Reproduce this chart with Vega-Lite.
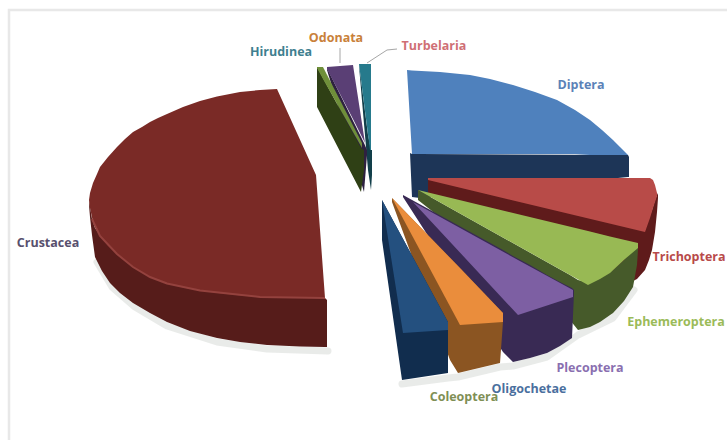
{"$schema":"https://vega.github.io/schema/vega-lite/v6.json","width":727,"height":441,"autosize":{"type":"none"},"padding":0,"background":"white","view":{"stroke":null},
"datasets":{
"pieces":[
{"piece":"Crustacea side","x":89,"y":200,"y2":205},{"piece":"Crustacea side","x":90,"y":207,"y2":217},{"piece":"Crustacea side","x":92,"y":219,"y2":235},{"piece":"Crustacea side","x":95,"y":228,"y2":257},{"piece":"Crustacea side","x":102,"y":238,"y2":271},{"piece":"Crustacea side","x":110,"y":247,"y2":283},{"piece":"Crustacea side","x":120,"y":255,"y2":293},{"piece":"Crustacea side","x":133,"y":266,"y2":303},{"piece":"Crustacea side","x":150,"y":276,"y2":313},{"piece":"Crustacea side","x":167,"y":283,"y2":322},{"piece":"Crustacea side","x":190,"y":288,"y2":331},{"piece":"Crustacea side","x":217,"y":292,"y2":338},{"piece":"Crustacea side","x":240,"y":295,"y2":342},{"piece":"Crustacea side","x":267,"y":297,"y2":345},{"piece":"Crustacea side","x":300,"y":297,"y2":346.5},{"piece":"Crustacea side","x":325,"y":298,"y2":347},{"piece":"Crustacea side","x":327,"y":300,"y2":347},
{"piece":"Crustacea top","x":89,"y":200,"y2":200},{"piece":"Crustacea top","x":90,"y":193,"y2":208},{"piece":"Crustacea top","x":93,"y":183,"y2":222},{"piece":"Crustacea top","x":97,"y":174,"y2":231},{"piece":"Crustacea top","x":100,"y":167,"y2":236},{"piece":"Crustacea top","x":108,"y":157,"y2":246},{"piece":"Crustacea top","x":117,"y":147,"y2":254},{"piece":"Crustacea top","x":125,"y":139,"y2":261},{"piece":"Crustacea top","x":133,"y":132,"y2":267},{"piece":"Crustacea top","x":142,"y":127,"y2":272},{"piece":"Crustacea top","x":150,"y":122,"y2":277},{"piece":"Crustacea top","x":158,"y":118,"y2":280},{"piece":"Crustacea top","x":167,"y":114,"y2":283.5},{"piece":"Crustacea top","x":183,"y":107,"y2":287.5},{"piece":"Crustacea top","x":200,"y":101,"y2":290.5},{"piece":"Crustacea top","x":217,"y":96.5,"y2":293},{"piece":"Crustacea top","x":240,"y":92,"y2":295.5},{"piece":"Crustacea top","x":260,"y":90,"y2":297},{"piece":"Crustacea top","x":277,"y":89,"y2":297.5},{"piece":"Crustacea top","x":316,"y":175,"y2":298},{"piece":"Crustacea top","x":325,"y":298,"y2":298},
{"piece":"Turbelaria side","x":359,"y":64,"y2":66},{"piece":"Turbelaria side","x":368,"y":135,"y2":170},{"piece":"Turbelaria side","x":371,"y":150,"y2":190},{"piece":"Turbelaria side","x":372,"y":150,"y2":175},
{"piece":"Turbelaria top","x":359,"y":64,"y2":64},{"piece":"Turbelaria top","x":370,"y":64,"y2":150},{"piece":"Turbelaria top","x":371,"y":64,"y2":150},
{"piece":"Odonata side","x":327,"y":68,"y2":70},{"piece":"Odonata side","x":364,"y":143,"y2":192},{"piece":"Odonata side","x":367,"y":150,"y2":155},
{"piece":"Odonata top","x":327,"y":67,"y2":69},{"piece":"Odonata top","x":353,"y":65,"y2":119},{"piece":"Odonata top","x":365,"y":143,"y2":143},
{"piece":"Hirudinea side","x":317,"y":67,"y2":107},{"piece":"Hirudinea side","x":361,"y":148,"y2":192},{"piece":"Hirudinea side","x":364,"y":150,"y2":170},
{"piece":"Hirudinea top","x":317,"y":67,"y2":68},{"piece":"Hirudinea top","x":323,"y":67,"y2":79},{"piece":"Hirudinea top","x":362,"y":143,"y2":148},
{"piece":"Diptera side","x":410,"y":153,"y2":153},{"piece":"Diptera side","x":412,"y":154,"y2":197},{"piece":"Diptera side","x":420,"y":154,"y2":198},{"piece":"Diptera side","x":628,"y":155,"y2":177},{"piece":"Diptera side","x":629,"y":157,"y2":177},
{"piece":"Diptera top","x":407,"y":70,"y2":70},{"piece":"Diptera top","x":412,"y":70.5,"y2":154},{"piece":"Diptera top","x":440,"y":72,"y2":154},{"piece":"Diptera top","x":470,"y":75,"y2":154},{"piece":"Diptera top","x":490,"y":79,"y2":154},{"piece":"Diptera top","x":513,"y":85,"y2":154},{"piece":"Diptera top","x":535,"y":92,"y2":154},{"piece":"Diptera top","x":557,"y":100,"y2":154},{"piece":"Diptera top","x":575,"y":110,"y2":154},{"piece":"Diptera top","x":590,"y":120,"y2":155},{"piece":"Diptera top","x":602,"y":130,"y2":155},{"piece":"Diptera top","x":613,"y":140,"y2":155},{"piece":"Diptera top","x":620,"y":147,"y2":155},{"piece":"Diptera top","x":628,"y":155,"y2":155},
{"piece":"Trichoptera side","x":428,"y":178,"y2":195},{"piece":"Trichoptera side","x":633,"y":226,"y2":281},{"piece":"Trichoptera side","x":637,"y":228,"y2":279},{"piece":"Trichoptera side","x":645,"y":230,"y2":270},{"piece":"Trichoptera side","x":649,"y":218,"y2":260},{"piece":"Trichoptera side","x":652,"y":210,"y2":250},{"piece":"Trichoptera side","x":655,"y":200,"y2":232},{"piece":"Trichoptera side","x":657,"y":195,"y2":212},{"piece":"Trichoptera side","x":658,"y":193,"y2":198},
{"piece":"Trichoptera top","x":428,"y":178,"y2":180},{"piece":"Trichoptera top","x":645,"y":178,"y2":232},{"piece":"Trichoptera top","x":650,"y":178,"y2":218},{"piece":"Trichoptera top","x":653,"y":180,"y2":208},{"piece":"Trichoptera top","x":655,"y":185,"y2":202},{"piece":"Trichoptera top","x":657,"y":193,"y2":196},
{"piece":"Ephemeroptera side","x":418,"y":190,"y2":200},{"piece":"Ephemeroptera side","x":570,"y":275,"y2":320},{"piece":"Ephemeroptera side","x":578,"y":280,"y2":330},{"piece":"Ephemeroptera side","x":590,"y":283,"y2":327},{"piece":"Ephemeroptera side","x":600,"y":275,"y2":322},{"piece":"Ephemeroptera side","x":613,"y":270,"y2":313},{"piece":"Ephemeroptera side","x":624,"y":260,"y2":301},{"piece":"Ephemeroptera side","x":633,"y":250,"y2":287},{"piece":"Ephemeroptera side","x":637,"y":247,"y2":265},{"piece":"Ephemeroptera side","x":638,"y":247,"y2":250},
{"piece":"Ephemeroptera top","x":418,"y":190,"y2":190},{"piece":"Ephemeroptera top","x":588,"y":231,"y2":285},{"piece":"Ephemeroptera top","x":600,"y":234,"y2":279},{"piece":"Ephemeroptera top","x":610,"y":236.5,"y2":273},{"piece":"Ephemeroptera top","x":625,"y":240,"y2":259},{"piece":"Ephemeroptera top","x":638,"y":243,"y2":248},
{"piece":"Plecoptera side","x":403,"y":195,"y2":197},{"piece":"Plecoptera side","x":503,"y":250,"y2":352},{"piece":"Plecoptera side","x":513,"y":256,"y2":362},{"piece":"Plecoptera side","x":530,"y":265,"y2":358},{"piece":"Plecoptera side","x":547,"y":275,"y2":353},{"piece":"Plecoptera side","x":560,"y":282,"y2":346},{"piece":"Plecoptera side","x":572,"y":288,"y2":338},{"piece":"Plecoptera side","x":574,"y":290,"y2":293},
{"piece":"Plecoptera top","x":413,"y":202,"y2":202},{"piece":"Plecoptera top","x":518,"y":260,"y2":315},{"piece":"Plecoptera top","x":573,"y":290,"y2":297},
{"piece":"Coleoptera side","x":392,"y":198,"y2":202},{"piece":"Coleoptera side","x":450,"y":258,"y2":360},{"piece":"Coleoptera side","x":458,"y":266,"y2":373},{"piece":"Coleoptera side","x":500,"y":310,"y2":363},{"piece":"Coleoptera side","x":503,"y":313,"y2":322},
{"piece":"Coleoptera top","x":392,"y":198,"y2":198},{"piece":"Coleoptera top","x":460,"y":268,"y2":325},{"piece":"Coleoptera top","x":503,"y":313,"y2":322},
{"piece":"Oligochetae side","x":382,"y":200,"y2":240},{"piece":"Oligochetae side","x":402,"y":237,"y2":380},{"piece":"Oligochetae side","x":448,"y":322,"y2":373},
{"piece":"Oligochetae top","x":382,"y":200,"y2":200},{"piece":"Oligochetae top","x":403,"y":239,"y2":333},{"piece":"Oligochetae top","x":448,"y":322,"y2":330}
],
"lines":[
{"line":"Frame","s":1,"x":727,"y":10},{"line":"Frame","s":2,"x":9,"y":10},{"line":"Frame","s":3,"x":9,"y":440},
{"line":"Shadow A","s":1,"x":97,"y":262},{"line":"Shadow A","s":2,"x":112,"y":287},{"line":"Shadow A","s":3,"x":135,"y":307},{"line":"Shadow A","s":4,"x":167,"y":326},{"line":"Shadow A","s":5,"x":217,"y":342},{"line":"Shadow A","s":6,"x":267,"y":349},{"line":"Shadow A","s":7,"x":328,"y":351},
{"line":"Shadow B","s":1,"x":402,"y":384},{"line":"Shadow B","s":2,"x":448,"y":378},{"line":"Shadow B","s":3,"x":458,"y":377},{"line":"Shadow B","s":4,"x":500,"y":367},{"line":"Shadow B","s":5,"x":513,"y":366},{"line":"Shadow B","s":6,"x":547,"y":357},{"line":"Shadow B","s":7,"x":578,"y":335},{"line":"Shadow B","s":8,"x":613,"y":318},{"line":"Shadow B","s":9,"x":634,"y":290},
{"line":"Odonata leader","s":1,"x":340,"y":48},{"line":"Odonata leader","s":2,"x":340,"y":63},
{"line":"Turbelaria leader","s":1,"x":397,"y":49},{"line":"Turbelaria leader","s":2,"x":387,"y":50},{"line":"Turbelaria leader","s":3,"x":367,"y":63},
{"line":"Crustacea edge","s":1,"x":92,"y":219},{"line":"Crustacea edge","s":2,"x":100,"y":236},{"line":"Crustacea edge","s":3,"x":117,"y":254},{"line":"Crustacea edge","s":4,"x":133,"y":267},{"line":"Crustacea edge","s":5,"x":150,"y":277},{"line":"Crustacea edge","s":6,"x":167,"y":283.5},{"line":"Crustacea edge","s":7,"x":200,"y":290.5},{"line":"Crustacea edge","s":8,"x":260,"y":297},{"line":"Crustacea edge","s":9,"x":325,"y":298}
],
"labels":[
{"name":"Diptera","x":581,"y":85},{"name":"Turbelaria","x":434,"y":46},{"name":"Odonata","x":336,"y":38},{"name":"Hirudinea","x":281,"y":52},{"name":"Crustacea","x":48,"y":243},{"name":"Trichoptera","x":689,"y":257},{"name":"Ephemeroptera","x":676,"y":322},{"name":"Plecoptera","x":590,"y":368},{"name":"Coleoptera","x":464,"y":397},{"name":"Oligochetae","x":529,"y":389}
]},
"layer":[
{"data":{"name":"lines"},"transform":[{"filter":"datum.line=='Frame'"}],"mark":{"type":"line","stroke":"#e8e8e8","strokeWidth":2.5,"clip":true},"encoding":{"x":{"field":"x","type":"quantitative","scale":{"domain":[0,727],"nice":false,"zero":false},"axis":null},"y":{"field":"y","type":"quantitative","scale":{"domain":[441,0],"nice":false,"zero":false},"axis":null},"order":{"field":"s"}}},
{"data":{"name":"lines"},"transform":[{"filter":"indexof(datum.line,'Shadow')>=0"}],"mark":{"type":"line","stroke":"#e4e6e4","strokeWidth":7,"strokeCap":"round","strokeJoin":"round","opacity":0.8},"encoding":{"x":{"field":"x","type":"quantitative","scale":{"domain":[0,727],"nice":false,"zero":false},"axis":null},"y":{"field":"y","type":"quantitative","scale":{"domain":[441,0],"nice":false,"zero":false},"axis":null},"detail":{"field":"line"},"order":{"field":"s"}}},
{"data":{"name":"pieces"},"mark":{"type":"area","interpolate":"linear","opacity":1},"encoding":{"x":{"field":"x","type":"quantitative","scale":{"domain":[0,727],"nice":false,"zero":false},"axis":null},"y":{"field":"y","type":"quantitative","scale":{"domain":[441,0],"nice":false,"zero":false},"axis":null},"y2":{"field":"y2"},"color":{"field":"piece","type":"nominal","legend":null,"sort":null,"scale":{"domain":["Crustacea side","Crustacea top","Turbelaria side","Turbelaria top","Odonata side","Odonata top","Hirudinea side","Hirudinea top","Diptera side","Diptera top","Trichoptera side","Trichoptera top","Ephemeroptera side","Ephemeroptera top","Plecoptera side","Plecoptera top","Coleoptera side","Coleoptera top","Oligochetae side","Oligochetae top"],"range":["#561c1a","#7a2a26","#123f4a","#267a8c","#2e2140","#5a3f75","#2f4015","#6f8f3a","#1d3557","#4f81bd","#5f1b1b","#b84b48","#465a2a","#98b954","#392a54","#7d5fa3","#8b5522","#ea8d3c","#112d4e","#24507f"]}}}},
{"data":{"name":"lines"},"transform":[{"filter":"datum.line=='Crustacea edge'"}],"mark":{"type":"line","stroke":"#94423e","strokeWidth":2},"encoding":{"x":{"field":"x","type":"quantitative","scale":{"domain":[0,727],"nice":false,"zero":false},"axis":null},"y":{"field":"y","type":"quantitative","scale":{"domain":[441,0],"nice":false,"zero":false},"axis":null},"order":{"field":"s"}}},
{"data":{"name":"lines"},"transform":[{"filter":"indexof(datum.line,'leader')>=0"}],"mark":{"type":"line","stroke":"#a6a6a6","strokeWidth":1},"encoding":{"x":{"field":"x","type":"quantitative","scale":{"domain":[0,727],"nice":false,"zero":false},"axis":null},"y":{"field":"y","type":"quantitative","scale":{"domain":[441,0],"nice":false,"zero":false},"axis":null},"detail":{"field":"line"},"order":{"field":"s"}}},
{"data":{"name":"labels"},"mark":{"type":"text","font":"Open Sans","fontWeight":"bold","fontSize":12.5,"align":"center","baseline":"middle"},"encoding":{"x":{"field":"x","type":"quantitative","scale":{"domain":[0,727],"nice":false,"zero":false},"axis":null},"y":{"field":"y","type":"quantitative","scale":{"domain":[441,0],"nice":false,"zero":false},"axis":null},"text":{"field":"name"},"color":{"field":"name","type":"nominal","legend":null,"scale":{"domain":["Diptera","Turbelaria","Odonata","Hirudinea","Crustacea","Trichoptera","Ephemeroptera","Plecoptera","Coleoptera","Oligochetae"],"range":["#5b82b8","#cf6f75","#c9813a","#3f7f90","#58506e","#b84a4a","#9bbb59","#8a6fb0","#7f8f55","#4a6f9e"]}}}}
],
"resolve":{"scale":{"color":"independent"}}}
